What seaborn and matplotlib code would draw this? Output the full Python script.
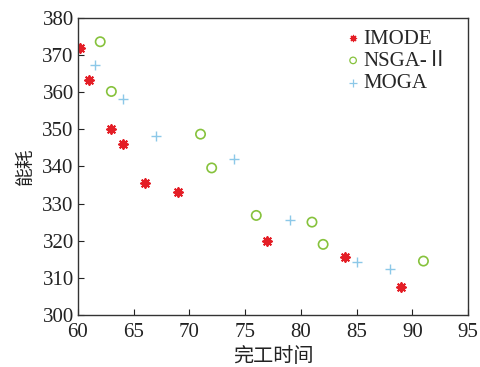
import matplotlib
matplotlib.use("Agg")
import matplotlib.pyplot as plt
import seaborn as sns
import pandas as pd

imode_x = [60.2, 61, 63, 64, 66, 69, 77, 84, 89]
imode_y = [372, 363.3, 350, 346, 335.5, 333, 320, 315.6, 307.5]
nsga_x = [62, 63, 71, 72, 76, 81, 82, 91]
nsga_y = [373.6, 360.2, 348.7, 339.6, 326.8, 325, 319, 314.5]
moga_x = [61.5, 64, 67, 74, 79, 85, 88]
moga_y = [367.4, 358.3, 348.1, 342.1, 325.5, 314.2, 312.4]
series_names = ["IMODE", "NSGA-Ⅱ", "MOGA"]
x_ticks = [60, 65, 70, 75, 80, 85, 90, 95]
y_ticks = [300, 310, 320, 330, 340, 350, 360, 370, 380]

sns.set_style("white")
plt.rcParams['font.family'] = ['Liberation Serif', 'Noto Sans CJK SC', 'DejaVu Sans']
plt.rcParams['mathtext.fontset'] = 'stix'

fig = plt.figure(figsize=(4.81, 3.67), dpi=100)
ax = fig.add_axes([0.162, 0.142, 0.811, 0.809])

red = '#e41e26'
green = '#86c23c'
blue = '#8cc8e8'

sns.scatterplot(x=imode_x, y=imode_y, ax=ax, marker=(8, 2, 0), s=40,
                color=red, edgecolor=red, linewidth=1.4, label=series_names[0])
sns.scatterplot(x=nsga_x, y=nsga_y, ax=ax, marker='o', s=45,
                facecolor='none', edgecolor=green, linewidth=1.2, label=series_names[1])
sns.scatterplot(x=moga_x, y=moga_y, ax=ax, marker='+', s=60,
                color=blue, linewidth=1.0, label=series_names[2])

ax.set_xlim(60, 95)
ax.set_ylim(300, 380)
ax.set_xticks(x_ticks)
ax.set_yticks(y_ticks)
ax.tick_params(direction='in', length=4, width=0.8, labelsize=15, colors='#222222',
               top=False, right=False, bottom=True, left=True)
ax.tick_params(axis='x', pad=6)
ax.tick_params(axis='y', pad=3)
for sp in ax.spines.values():
    sp.set_color('#333333')
    sp.set_linewidth(1.0)

ax.set_xlabel('完工时间', family=['Noto Sans CJK SC'], fontsize=14.5, color='#222222', labelpad=3)
ax.set_ylabel('能耗', family=['Noto Sans CJK SC'], fontsize=13.5, color='#222222', labelpad=5)

leg = ax.legend(loc='upper left', bbox_to_anchor=(0.652, 1.005), frameon=False,
                fontsize=15, handletextpad=0.1, labelspacing=0.13,
                handlelength=0.8, borderaxespad=0.2, markerscale=0.7)
for h in leg.legend_handles:
    h.set_linewidth(0.9)

fig.savefig('out.png', dpi=100, facecolor='white')
